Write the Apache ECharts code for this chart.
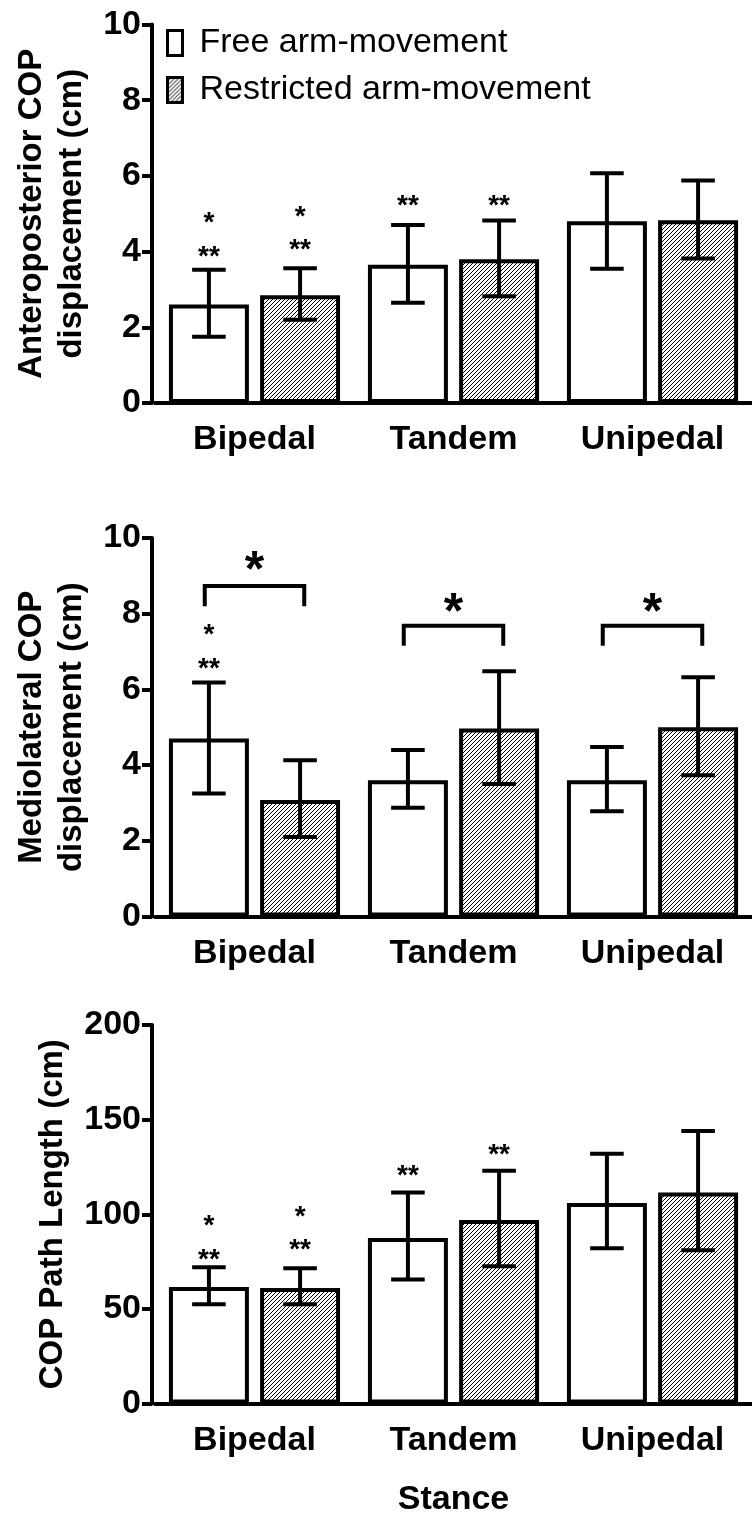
<!DOCTYPE html>
<html>
<head>
<meta charset="utf-8">
<script src="https://cdn.jsdelivr.net/npm/echarts@6/dist/echarts.min.js"></script>
<style>
    html, body { margin: 0; padding: 0; background: #fff; }
    #chart { width: 752px; height: 1515px; }
</style>
</head>
<body>
<div id="chart"></div>
<script>
// categories
var stances = ['Bipedal', 'Tandem', 'Unipedal'];
var seriesNames = ['Free arm-movement', 'Restricted arm-movement'];

// Anteroposterior COP displacement (cm)
var apFree = [2.6, 3.65, 4.8];
var apFreeLow = [1.75, 2.65, 3.55];
var apFreeHigh = [3.52, 4.7, 6.07];
var apRestr = [2.85, 3.8, 4.83];
var apRestrLow = [2.2, 2.82, 3.82];
var apRestrHigh = [3.56, 4.82, 5.88];

// Mediolateral COP displacement (cm)
var mlFree = [4.7, 3.6, 3.6];
var mlFreeLow = [3.25, 2.87, 2.78];
var mlFreeHigh = [6.18, 4.4, 4.48];
var mlRestr = [3.08, 4.97, 5.0];
var mlRestrLow = [2.1, 3.5, 3.73];
var mlRestrHigh = [4.13, 6.48, 6.32];

// COP path length (cm)
var plFree = [61.5, 87.5, 106];
var plFreeLow = [52.5, 65.5, 82];
var plFreeHigh = [72, 111.5, 132];
var plRestr = [61, 97, 111.5];
var plRestrLow = [52.5, 72.5, 81];
var plRestrHigh = [71.5, 123, 144];

// significance marks: [stance, bar (0 free / 1 restricted), y, text]
var apMarks = [[0, 0, 4.9, '*'], [0, 0, 4.0, '**'], [0, 1, 5.07, '*'], [0, 1, 4.2, '**'],
    [1, 0, 5.36, '**'], [1, 1, 5.36, '**']];
var mlMarks = [[0, 0, 7.6, '*'], [0, 0, 6.7, '**']];
var plMarks = [[0, 0, 97, '*'], [0, 0, 79, '**'], [0, 1, 101.5, '*'], [0, 1, 84, '**'],
    [1, 0, 123, '**'], [1, 1, 134.5, '**']];
// brackets free vs restricted: [stance, top, leg end, star y]
var mlBrackets = [[0, 8.73, 8.2, 9.35], [1, 7.68, 7.15, 8.25], [2, 7.68, 7.15, 8.25]];

// y axes
var yMax = [10, 10, 200];
var yStep = [2, 2, 50];
var yTitles = ['Anteroposterior COP\ndisplacement (cm)', 'Mediolateral COP\ndisplacement (cm)', 'COP Path Length (cm)'];

var FONT = 'Liberation Sans, Arial, sans-serif';
var CAT_GAP = 0.14;
var BAR_GAP = 0.14;

var chart = echarts.init(document.getElementById('chart'));

function hatchPattern() {
    var p = 4;
    var c = document.createElement('canvas');
    c.width = p;
    c.height = p;
    var ctx = c.getContext('2d');
    ctx.fillStyle = '#fff';
    ctx.fillRect(0, 0, p, p);
    ctx.strokeStyle = '#000';
    ctx.lineWidth = 1.0;
    ctx.beginPath();
    ctx.moveTo(-1, p + 1); ctx.lineTo(p + 1, -1);
    ctx.moveTo(-1, 1); ctx.lineTo(1, -1);
    ctx.moveTo(p - 1, p + 1); ctx.lineTo(p + 1, p - 1);
    ctx.stroke();
    return { image: c, repeat: 'repeat' };
}
var hatch = hatchPattern();

function barOffset(api, side) {
    var catW = api.size([1, 0])[0];
    var bw = catW * (1 - CAT_GAP) / (2 + BAR_GAP);
    return { dx: (side === 0 ? -1 : 1) * bw * (1 + BAR_GAP) / 2, bw: bw, catW: catW };
}

function errorRender(side) {
    return function (params, api) {
        var cat = api.value(0);
        var lo = api.coord([cat, api.value(1)]);
        var hi = api.coord([cat, api.value(2)]);
        var o = barOffset(api, side);
        var x = lo[0] + o.dx;
        var cap = o.bw * 0.21;
        var st = { stroke: '#000', lineWidth: 4 };
        return {
            type: 'group',
            children: [
                { type: 'line', shape: { x1: x, y1: lo[1], x2: x, y2: hi[1] }, style: st },
                { type: 'line', shape: { x1: x - cap, y1: lo[1], x2: x + cap, y2: lo[1] }, style: st },
                { type: 'line', shape: { x1: x - cap, y1: hi[1], x2: x + cap, y2: hi[1] }, style: st }
            ]
        };
    };
}

function markRender(params, api) {
    var pt = api.coord([api.value(0), api.value(2)]);
    var o = barOffset(api, api.value(1));
    return {
        type: 'text',
        x: pt[0] + o.dx,
        y: pt[1] + 6,
        style: {
            text: api.value(3),
            fill: '#000',
            font: 'bold 28px ' + FONT,
            textAlign: 'center',
            textVerticalAlign: 'middle'
        }
    };
}

function bracketRender(params, api) {
    var cat = api.value(0);
    var top = api.coord([cat, api.value(1)]);
    var leg = api.coord([cat, api.value(2)]);
    var star = api.coord([cat, api.value(3)]);
    var half = api.size([1, 0])[0] * 0.25;
    return {
        type: 'group',
        children: [
            {
                type: 'polyline',
                shape: { points: [[top[0] - half, leg[1]], [top[0] - half, top[1]], [top[0] + half, top[1]], [top[0] + half, leg[1]]] },
                style: { stroke: '#000', lineWidth: 4, fill: null }
            },
            {
                type: 'text', x: star[0], y: star[1] + 10,
                style: { text: '*', fill: '#000', font: 'bold 50px ' + FONT, textAlign: 'center', textVerticalAlign: 'middle' }
            }
        ]
    };
}

function pack(low, high) {
    return low.map(function (v, i) { return [i, v, high[i]]; });
}

var gridTops = [24.5, 538, 1025];
var grids = [], xAxes = [], yAxes = [], series = [];
var panels = [
    { free: apFree, freeLow: apFreeLow, freeHigh: apFreeHigh, restr: apRestr, restrLow: apRestrLow, restrHigh: apRestrHigh, marks: apMarks },
    { free: mlFree, freeLow: mlFreeLow, freeHigh: mlFreeHigh, restr: mlRestr, restrLow: mlRestrLow, restrHigh: mlRestrHigh, marks: mlMarks, brackets: mlBrackets },
    { free: plFree, freeLow: plFreeLow, freeHigh: plFreeHigh, restr: plRestr, restrLow: plRestrLow, restrHigh: plRestrHigh, marks: plMarks }
];

panels.forEach(function (p, k) {
    grids.push({ left: 155, width: 597, top: gridTops[k], height: 378.5, outerBoundsMode: 'none', containLabel: false });
    xAxes.push({
        type: 'category',
        gridIndex: k,
        data: stances,
        axisLine: { lineStyle: { color: '#000', width: 4 } },
        axisTick: { alignWithLabel: true, length: 12, lineStyle: { color: '#000', width: 4 } },
        axisLabel: { color: '#000', fontFamily: FONT, fontWeight: 'bold', fontSize: 34, margin: 20 },
        name: k === 2 ? 'Stance' : '',
        nameLocation: 'middle',
        nameGap: 79,
        nameTextStyle: { color: '#000', fontFamily: FONT, fontWeight: 'bold', fontSize: 34 }
    });
    yAxes.push({
        type: 'value',
        gridIndex: k,
        min: 0,
        max: yMax[k],
        interval: yStep[k],
        offset: 3,
        splitLine: { show: false },
        axisLine: { show: true, lineStyle: { color: '#000', width: 4 } },
        axisTick: { show: true, length: 10, lineStyle: { color: '#000', width: 4 } },
        axisLabel: { color: '#000', fontFamily: FONT, fontWeight: 'bold', fontSize: 34, margin: 11 },
        name: yTitles[k],
        nameLocation: 'middle',
        nameRotate: 90,
        nameGap: k === 2 ? 76 : 48,
        nameTextStyle: { color: '#000', fontFamily: FONT, fontWeight: 'bold', fontSize: 33, lineHeight: 40 }
    });
    series.push({
        name: seriesNames[0], type: 'bar', xAxisIndex: k, yAxisIndex: k,
        data: p.free, barCategoryGap: (CAT_GAP * 100) + '%', barGap: (BAR_GAP * 100) + '%',
        itemStyle: { color: '#fff', borderColor: '#000', borderWidth: 4 },
        emphasis: { disabled: true }
    });
    series.push({
        name: seriesNames[1], type: 'bar', xAxisIndex: k, yAxisIndex: k,
        data: p.restr, barCategoryGap: (CAT_GAP * 100) + '%', barGap: (BAR_GAP * 100) + '%',
        itemStyle: { color: hatch, borderColor: '#000', borderWidth: 4 },
        emphasis: { disabled: true }
    });
    series.push({
        type: 'custom', xAxisIndex: k, yAxisIndex: k, z: 5,
        renderItem: errorRender(0), data: pack(p.freeLow, p.freeHigh), silent: true
    });
    series.push({
        type: 'custom', xAxisIndex: k, yAxisIndex: k, z: 5,
        renderItem: errorRender(1), data: pack(p.restrLow, p.restrHigh), silent: true
    });
    series.push({
        type: 'custom', xAxisIndex: k, yAxisIndex: k, z: 6,
        renderItem: markRender, data: p.marks, silent: true
    });
    if (p.brackets) {
        series.push({
            type: 'custom', xAxisIndex: k, yAxisIndex: k, z: 6,
            renderItem: bracketRender, data: p.brackets, silent: true
        });
    }
});

chart.setOption({
    animation: false,
    backgroundColor: '#fff',
    legend: {
        data: [
            { name: seriesNames[0], itemStyle: { color: '#fff', borderColor: '#000', borderWidth: 3 } },
            { name: seriesNames[1], itemStyle: { color: hatch, borderColor: '#000', borderWidth: 3 } }
        ],
        orient: 'vertical',
        left: 161,
        top: 21,
        icon: 'rect',
        itemWidth: 15,
        itemHeight: 25,
        itemGap: 13,
        selectedMode: false,
        textStyle: { color: '#000', fontFamily: FONT, fontSize: 34, padding: [0, 0, 0, 12] }
    },
    grid: grids,
    xAxis: xAxes,
    yAxis: yAxes,
    series: series
});
</script>
</body>
</html>
